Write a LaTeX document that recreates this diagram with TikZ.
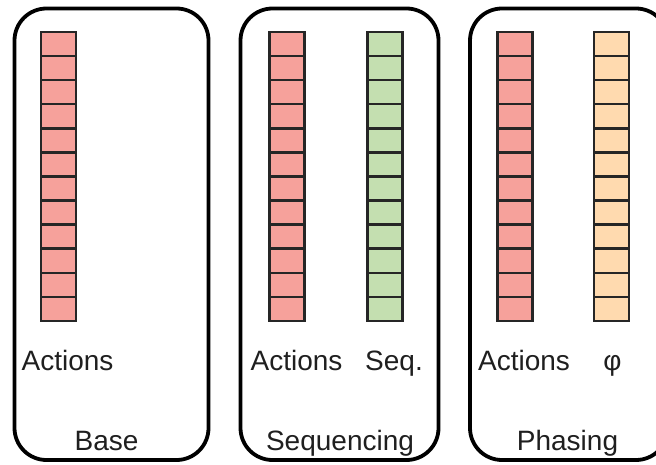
\documentclass[tikz,border=0pt]{standalone}
\usepackage{fontspec}
\setmainfont{Liberation Sans}
\definecolor{actred}{HTML}{F6A19B}
\definecolor{seqgreen}{HTML}{C4DFB0}
\definecolor{phaseorange}{HTML}{FFDAAF}
\definecolor{labelgray}{HTML}{1F1F1F}

\begin{document}
\begin{tikzpicture}[x=0.5pt,y=-0.5pt]
\useasboundingbox (0,0) rectangle (656,464);
\clip (0,0) rectangle (656,464);
\begin{scope}[every node/.style={draw,line width=1.9pt,rounded corners=16pt,
              minimum height=225.75pt,inner sep=0pt}]
    \node[minimum width=97pt] (base) at (111.5,234.25) {};
    \node[minimum width=99pt] (seqpanel) at (339.5,234.25) {};
    \node[minimum width=99pt] (phasepanel) at (569,234.25) {};
\end{scope}
\begin{scope}[every node/.style={draw=black!85,line width=1.25pt,
              minimum width=17.5pt,minimum height=12.04pt,inner sep=0pt}]
    \foreach \col/\cx/\clr in {ba/58.5/actred, sa/287/actred, ss/385/seqgreen,
                               pa/515/actred, pp/611.5/phaseorange}{
        \foreach \i in {1,...,12}{
            \node[fill=\clr] (\col\i) at (\cx,{32+24.08*(\i-0.5)}) {};
        }
    }
\end{scope}
\begin{scope}[every node/.style={anchor=base,inner sep=0pt,text=labelgray,
              font=\fontsize{14}{16}\selectfont}]
    \node (baact) at (67.5,370) {Actions};
    \node (saact) at (296.5,370) {Actions};
    \node (ssact) at (394,370) {Seq.};
    \node (paact) at (524,370) {Actions};
    \node (ppact) at (612.5,370) {φ};
    \node (basetitle) at (106.5,450) {Base};
    \node (seqtitle) at (340,450) {Sequencing};
    \node (phasetitle) at (567.5,450) {Phasing};
\end{scope}
\end{tikzpicture}
\end{document}
